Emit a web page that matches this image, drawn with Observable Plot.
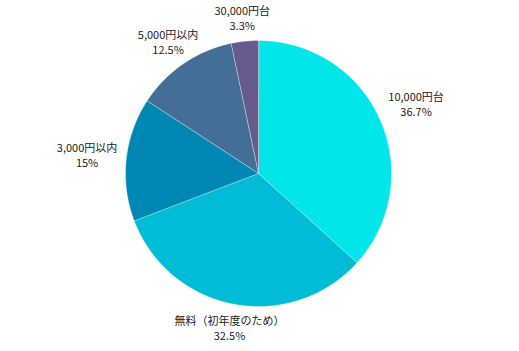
<!DOCTYPE html>
<html><head><meta charset="utf-8">
<script src="https://cdn.jsdelivr.net/npm/d3@7"></script>
<script src="https://cdn.jsdelivr.net/npm/@observablehq/plot@0.6"></script>
<style>body{margin:0;background:#fff;} svg{display:block;}</style>
</head><body><div id="chart"></div>
<script>
const categories = ["10,000円台", "無料（初年度のため）", "3,000円以内", "5,000円以内", "30,000円台"];
const values = [36.7, 32.5, 15, 12.5, 3.3];
const valueLabels = ["36.7%", "32.5%", "15%", "12.5%", "3.3%"];
const colors = ["#00E6EB", "#00BCD6", "#0088B5", "#436F96", "#675B8E"];

const W = 519, H = 351, cx = 258, cy = 173, R = 133;
const fontSize = 11, lineH = 15, gap = 9;
const total = d3.sum(values);

const ctx = document.createElement("canvas").getContext("2d");
ctx.font = `${fontSize}px "Noto Sans CJK JP"`;

const pts = [];
const labels = [];
let acc = 0;
categories.forEach((c, i) => {
  const a0 = acc / total * 2 * Math.PI;
  acc += values[i];
  const a1 = acc / total * 2 * Math.PI;
  pts.push({name: c, x: cx, y: cy});
  const n = Math.max(2, Math.ceil((a1 - a0) / (Math.PI / 360)));
  for (let k = 0; k <= n; k++) {
    const a = a0 + (a1 - a0) * k / n;
    pts.push({name: c, x: cx + R * Math.sin(a), y: cy - R * Math.cos(a)});
  }
  const am = (a0 + a1) / 2;
  const s = Math.sin(am), co = Math.cos(am);
  const w = Math.max(ctx.measureText(c).width, ctx.measureText(valueLabels[i]).width);
  const hw = w / 2, hh = lineH;
  const d = Math.min(Math.abs(s) > 1e-6 ? hw / Math.abs(s) : Infinity, Math.abs(co) > 1e-6 ? hh / Math.abs(co) : Infinity);
  const dist = R + gap + d;
  labels.push({text: c + "\n" + valueLabels[i], x: cx + dist * s, y: cy - dist * co});
});

const plot = Plot.plot({
  width: W, height: H,
  margin: 0,
  x: {domain: [0, W], range: [0, W], axis: null},
  y: {domain: [0, H], range: [0, H], axis: null},
  color: {domain: categories, range: colors},
  marks: [
    Plot.line(pts, {x: "x", y: "y", z: "name", fill: "name", stroke: "#ffffff", strokeOpacity: 0.6, strokeWidth: 0.6, curve: "linear-closed"}),
    Plot.text(labels, {x: "x", y: "y", text: "text", fontSize: fontSize, lineHeight: lineH / fontSize, fill: "#222", fontFamily: "Noto Sans CJK JP"})
  ]
});
plot.style.fontFamily = '"Noto Sans CJK JP", sans-serif';
document.getElementById("chart").append(plot);
</script></body></html>
